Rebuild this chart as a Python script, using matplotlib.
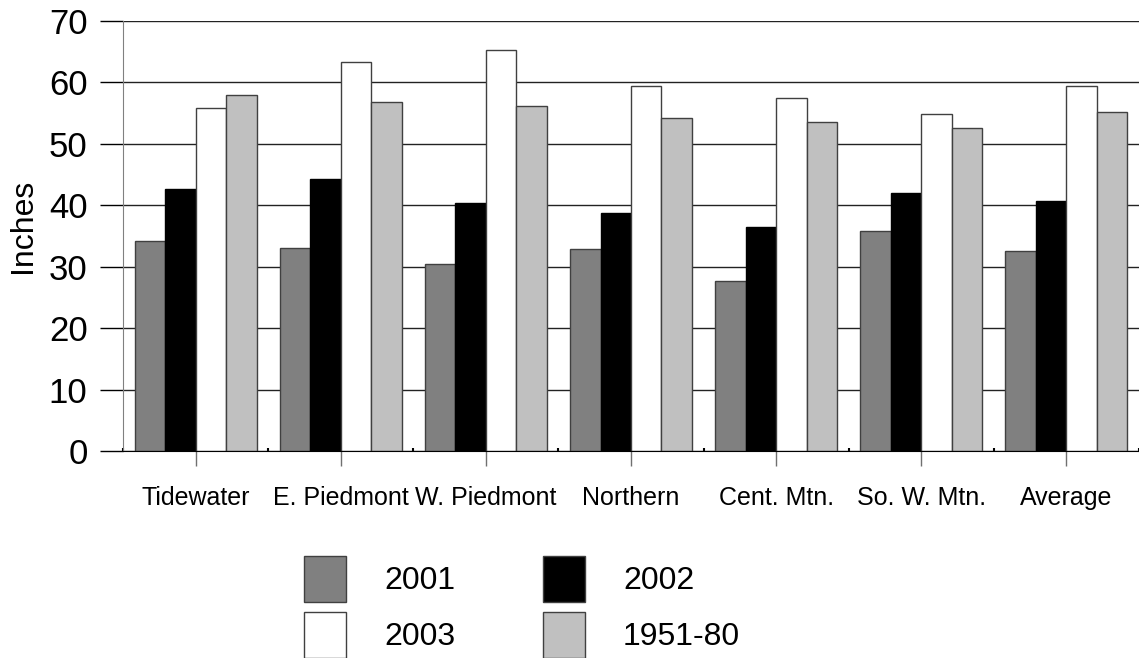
import matplotlib
matplotlib.use("Agg")
import matplotlib.pyplot as plt
import numpy as np
from matplotlib.patches import Patch

categories = ["Tidewater", "E. Piedmont", "W. Piedmont", "Northern", "Cent. Mtn.", "So. W. Mtn.", "Average"]
series_names = ["2001", "2002", "2003", "1951-80"]
v2001 = [34.2, 33.1, 30.5, 32.9, 27.6, 35.8, 32.6]
v2002 = [42.6, 44.2, 40.3, 38.7, 36.4, 42.0, 40.7]
v2003 = [55.8, 63.3, 65.2, 59.4, 57.4, 54.8, 59.4]
v1951_80 = [58.0, 56.8, 56.1, 54.2, 53.5, 52.6, 55.2]
y_ticks = [0, 10, 20, 30, 40, 50, 60, 70]

plt.rcParams['font.family'] = ['Liberation Sans', 'DejaVu Sans']

W, H = 1139, 658
fig = plt.figure(figsize=(W / 100, H / 100), dpi=100)
ax = fig.add_axes([123 / W, 1 - 451 / H, (W - 123) / W, (451 - 21) / H])

colors = ['#808080', '#000000', '#ffffff', '#c0c0c0']
edges = ['#404040', '#000000', '#404040', '#404040']
data = [v2001, v2002, v2003, v1951_80]
x = np.arange(len(categories))
bw = 0.21
handles = []
for i, (vals, c, e, name) in enumerate(zip(data, colors, edges, series_names)):
    ax.bar(x + (i - 1.5) * bw, vals, width=bw, color=c, edgecolor=e, linewidth=1.0, zorder=3, label=name)
    handles.append(Patch(facecolor=c, edgecolor='#404040', linewidth=1.0, label=name))

ax.set_xlim(-0.5, len(categories) - 0.5)
ax.set_ylim(0, 70)
ax.set_yticks(y_ticks)
ax.set_yticklabels([str(t) for t in y_ticks], fontsize=25)
ax.set_xticks(x)
ax.set_xticklabels(categories, fontsize=18)
ax.set_xticks(np.arange(len(categories) + 1) - 0.5, minor=True)
ax.tick_params(axis='x', which='major', length=11, width=1, color='#707070', pad=14)
ax.tick_params(axis='x', which='minor', length=2.5, width=1.5, direction='in', color='#000000')
ax.tick_params(axis='y', which='major', length=16.5, width=1, color='#000000', pad=9)

ax.yaxis.grid(True, color='#222222', linewidth=1.0, zorder=0)
ax.set_axisbelow(True)
for s in ['top', 'right']:
    ax.spines[s].set_visible(False)
ax.spines['left'].set_color('#808080')
ax.spines['bottom'].set_color('#000000')
ax.spines['bottom'].set_zorder(4)

ax.set_ylabel("Inches", fontsize=23)
ax.yaxis.set_label_coords((38 - 123) / (W - 123), (451 - 226) / 430)

order = [0, 2, 1, 3]
fs = 23
f = fs * 100 / 72
hh = (46 * 0.72 - 0.245 * fs) / (0.65 * fs)
fig.legend([handles[k] for k in order], [series_names[k] for k in order], ncol=2,
           loc='upper left', bbox_to_anchor=(304 / W, 1 - 556 / H), frameon=False,
           fontsize=fs, handlelength=42 / f, handleheight=hh, handletextpad=38 / f,
           columnspacing=2.75, labelspacing=10 / f, borderpad=0, borderaxespad=0)

fig.savefig("out.png", dpi=100)
